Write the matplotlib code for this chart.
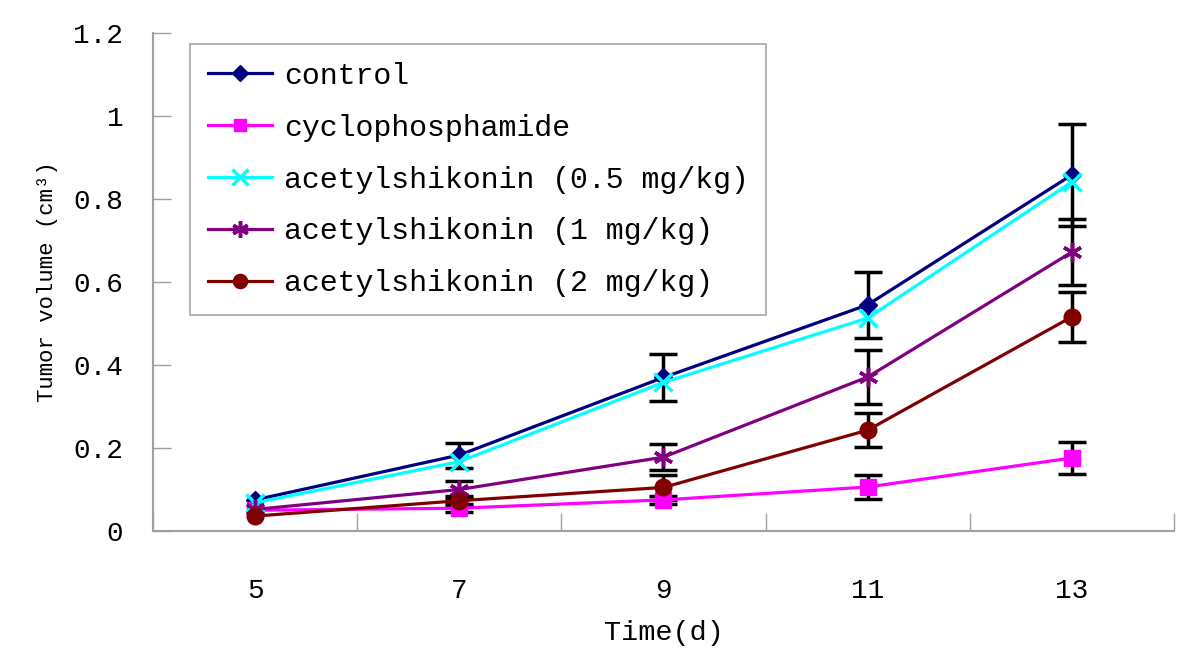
import matplotlib
matplotlib.use("Agg")
import matplotlib.pyplot as plt
import numpy as np

days = ["5", "7", "9", "11", "13"]
labels = ["control", "cyclophosphamide", "acetylshikonin (0.5 mg/kg)",
          "acetylshikonin (1 mg/kg)", "acetylshikonin (2 mg/kg)"]
control = [0.075, 0.183, 0.370, 0.545, 0.858]
cyclo = [0.050, 0.055, 0.075, 0.106, 0.176]
ace05 = [0.068, 0.167, 0.358, 0.513, 0.841]
ace1 = [0.052, 0.100, 0.178, 0.371, 0.672]
ace2 = [0.036, 0.073, 0.105, 0.243, 0.516]
err_control = [np.nan, 0.030, 0.057, 0.080, 0.122]
err_cyclo = [np.nan, 0.010, 0.010, 0.030, 0.038]
err_ace1 = [np.nan, 0.020, 0.032, 0.066, 0.080]
err_ace2 = [np.nan, 0.012, 0.030, 0.041, 0.060]

series = [control, cyclo, ace05, ace1, ace2]
errors = [err_control, err_cyclo, None, err_ace1, err_ace2]
colors = ["#000080", "#FF00FF", "#00FFFF", "#800080", "#800000"]
markers = ["D", "s", "x", (6, 2, 0), "o"]
msizes = [9, 11, 13, 14, 12]

FONT = "Liberation Mono"
plt.rcParams["font.family"] = [FONT, "DejaVu Sans"]

fig = plt.figure(figsize=(12, 6.72), dpi=100)
ax = fig.add_axes([0.1275, 0.2098, 0.8508, 0.7412])
x = np.arange(len(days))

handles = []
for s, e, c, m, ms, lab in zip(series, errors, colors, markers, msizes, labels):
    if e is not None:
        ax.errorbar(x, s, yerr=e, fmt="none", ecolor="black", elinewidth=2.5,
                    capsize=10, capthick=2.5, zorder=2)
    mew = 2.5 if m in ("x", (6, 2, 0)) else 1
    h, = ax.plot(x, s, color=c, lw=2.3, marker=m, markersize=ms,
                 markeredgewidth=mew, markeredgecolor=c, markerfacecolor=c,
                 label=lab, zorder=3)
    handles.append(h)

ax.set_xlim(-0.5, 4.5)
ax.set_ylim(0, 1.2)
ax.set_yticks([0, 0.2, 0.4, 0.6, 0.8, 1.0, 1.2])
ax.set_yticklabels(["0", "0.2", "0.4", "0.6", "0.8", "1", "1.2"])
ax.set_xticks(x)
ax.set_xticklabels(days)
ax.set_xticks(np.arange(-0.5, 4.6, 1.0), minor=True)
ax.tick_params(axis="x", which="major", length=0, pad=34, labelsize=20)
ax.tick_params(axis="x", which="minor", direction="in", length=13, color="#A0A0A0", width=1)
ax.tick_params(axis="y", direction="in", length=13, color="#A0A0A0", width=1, pad=21.5, labelsize=20)

for sp in ["top", "right"]:
    ax.spines[sp].set_visible(False)
for sp in ["left", "bottom"]:
    ax.spines[sp].set_color("#A0A0A0")
    ax.spines[sp].set_linewidth(1.5)

ax.set_xlabel("Time(d)", fontsize=20.5)
ax.xaxis.set_label_coords(0.5, -0.178)
ax.set_ylabel("Tumor volume (cm³)", fontsize=16)
ax.yaxis.set_label_coords(-0.093, 0.5)

leg = ax.legend(handles=handles, loc="upper left", bbox_to_anchor=(0.036, 0.978),
                borderaxespad=0, fontsize=21.5, frameon=True, fancybox=False,
                handlelength=2.15, handletextpad=0.4, labelspacing=0.8,
                borderpad=0.6, markerscale=0.85)
leg.get_frame().set_edgecolor("#909090")
leg.get_frame().set_linewidth(1.2)

fig.savefig("out.png", dpi=100)
